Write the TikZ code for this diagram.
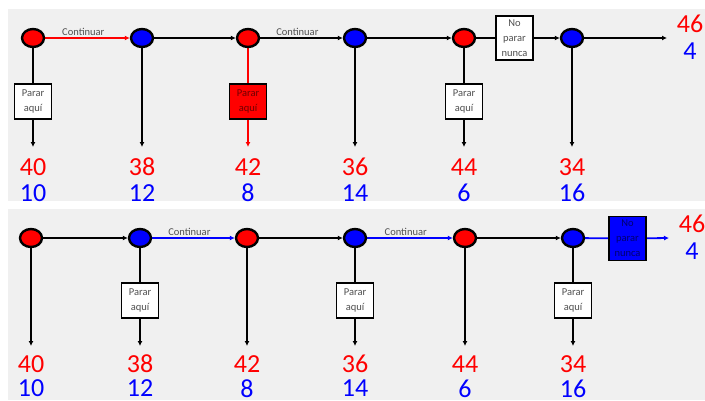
\documentclass[tikz,border=0pt]{standalone}
\usepackage{fontspec}
\setmainfont{Carlito}
\usetikzlibrary{arrows.meta,shapes.geometric}
\definecolor{panel}{HTML}{F0F0F0}
\definecolor{boxtext}{HTML}{505050}
\pgfdeclarelayer{lines}
\pgfsetlayers{lines,main}
\begin{document}
\begin{tikzpicture}[x=1pt,y=-1pt,
  dot/.style={ellipse,draw=black,line width=2.4pt,minimum width=22pt,minimum height=18pt,inner sep=0pt},
  rdot/.style={dot,fill=red},
  bdot/.style={dot,fill=blue},
  sbox/.style={draw=black,line width=1.6pt,fill=white,minimum width=37pt,minimum height=35pt,inner sep=1pt,align=center,font=\fontsize{10.5}{15.5}\selectfont,text=boxtext},
  nbox/.style={sbox,minimum height=44pt,font=\fontsize{10.5}{15}\selectfont},
  seg/.style={line width=1.8pt},
  arr/.style={seg,-{Latex[length=5pt,width=5pt]}},
  lab/.style={font=\fontsize{10.5}{12}\selectfont,text=boxtext,above,inner sep=1.5pt},
  rnum/.style={font=\fontsize{26}{26}\selectfont,text=red,inner sep=0pt},
  bnum/.style={font=\fontsize{26}{26}\selectfont,text=blue,inner sep=0pt}]
\useasboundingbox (0,0) rectangle (705,400);
\begin{pgfonlayer}{lines}
\fill[white] (0,0) rectangle (705,400);
\fill[panel] (8,9) rectangle (705,201);
\fill[panel] (8,209) rectangle (705,400);
\end{pgfonlayer}

% ---------- Panel 1 ----------
\node[rdot] (a1) at (33,38) {};
\node[bdot] (a2) at (142,38) {};
\node[rdot] (a3) at (248,38) {};
\node[bdot] (a4) at (355,38) {};
\node[rdot] (a5) at (464,38) {};
\node[bdot] (a6) at (572,38) {};
\coordinate (aend) at (667,38);
\node[nbox] (an) at (514.5,38) {No\\parar\\nunca};

\node[sbox] (ap1) at (33,101.5) {Parar\\aquí};
\node[sbox,fill=red,text={rgb,255:red,110;green,0;blue,0}] (ap3) at (248,101.5) {Parar\\aquí};
\node[sbox] (ap5) at (464,101.5) {Parar\\aquí};
\foreach \i/\x in {1/33,2/142,3/248,4/355,5/464,6/572}{
  \coordinate (ae\i) at (\x,147);
}
\begin{pgfonlayer}{lines}
\draw[arr,red] (a1) -- node[lab,pos=0.45]{Continuar} (a2);
\draw[arr] (a2) -- (a3);
\draw[arr] (a3) -- node[lab,pos=0.45]{Continuar} (a4);
\draw[arr] (a4) -- (a5);
\draw[seg] (a5) -- (an);
\draw[arr] (an) -- (a6);
\draw[arr] (a6) -- (aend);

\draw[seg] (a1) -- (ap1); \draw[arr] (ap1) -- (ae1);
\draw[arr] (a2) -- (ae2);
\draw[seg,red] (a3) -- (ap3); \draw[arr,red] (ap3) -- (ae3);
\draw[arr] (a4) -- (ae4);
\draw[seg] (a5) -- (ap5); \draw[arr] (ap5) -- (ae5);
\draw[arr] (a6) -- (ae6);
\end{pgfonlayer}

\node[rnum] (ar1) at (33,167) {40};  \node[bnum] (ab1) at (33,193) {10};
\node[rnum] (ar2) at (142,167) {38}; \node[bnum] (ab2) at (142,193) {12};
\node[rnum] (ar3) at (248,167) {42}; \node[bnum] (ab3) at (248,193) {8};
\node[rnum] (ar4) at (355,167) {36}; \node[bnum] (ab4) at (355,193) {14};
\node[rnum] (ar5) at (464,167) {44}; \node[bnum] (ab5) at (464,193) {6};
\node[rnum] (ar6) at (572,167) {34}; \node[bnum] (ab6) at (572,193) {16};
\node[rnum] (ar7) at (690,24) {46};  \node[bnum] (ab7) at (690,51) {4};

% ---------- Panel 2 ----------
\node[rdot] (b1) at (31,238) {};
\node[bdot] (b2) at (140,238) {};
\node[rdot] (b3) at (247,238) {};
\node[bdot] (b4) at (355,238) {};
\node[rdot] (b5) at (465,238) {};
\node[bdot] (b6) at (573,238) {};
\coordinate (bend) at (669,238);
\node[nbox,fill=blue,text={rgb,255:red,0;green,0;blue,110}] (bn) at (627.5,238.5) {No\\parar\\nunca};

\node[sbox] (bp2) at (140,300.5) {Parar\\aquí};
\node[sbox] (bp4) at (355,300.5) {Parar\\aquí};
\node[sbox] (bp6) at (573,300.5) {Parar\\aquí};
\foreach \i/\x in {1/31,2/140,3/247,4/355,5/465,6/573}{
  \coordinate (be\i) at (\x,346);
}
\begin{pgfonlayer}{lines}
\draw[arr] (b1) -- (b2);
\draw[arr,blue] (b2) -- node[lab,pos=0.45]{Continuar} (b3);
\draw[arr] (b3) -- (b4);
\draw[arr,blue] (b4) -- node[lab,pos=0.45]{Continuar} (b5);
\draw[arr] (b5) -- (b6);
\draw[seg,blue] (b6) -- (bn);
\draw[arr,blue] (bn) -- (bend);

\draw[arr] (b1) -- (be1);
\draw[seg] (b2) -- (bp2); \draw[arr] (bp2) -- (be2);
\draw[arr] (b3) -- (be3);
\draw[seg] (b4) -- (bp4); \draw[arr] (bp4) -- (be4);
\draw[arr] (b5) -- (be5);
\draw[seg] (b6) -- (bp6); \draw[arr] (bp6) -- (be6);
\end{pgfonlayer}

\node[rnum] (br1) at (31,364) {40};  \node[bnum] (bb1) at (31,388.5) {10};
\node[rnum] (br2) at (140,364) {38}; \node[bnum] (bb2) at (140,388.5) {12};
\node[rnum] (br3) at (247,364) {42}; \node[bnum] (bb3) at (247,388.5) {8};
\node[rnum] (br4) at (355,364) {36}; \node[bnum] (bb4) at (355,388.5) {14};
\node[rnum] (br5) at (465,364) {44}; \node[bnum] (bb5) at (465,388.5) {6};
\node[rnum] (br6) at (573,364) {34}; \node[bnum] (bb6) at (573,388.5) {16};
\node[rnum] (br7) at (692,224) {46}; \node[bnum] (bb7) at (692,251) {4};
\end{tikzpicture}
\end{document}
